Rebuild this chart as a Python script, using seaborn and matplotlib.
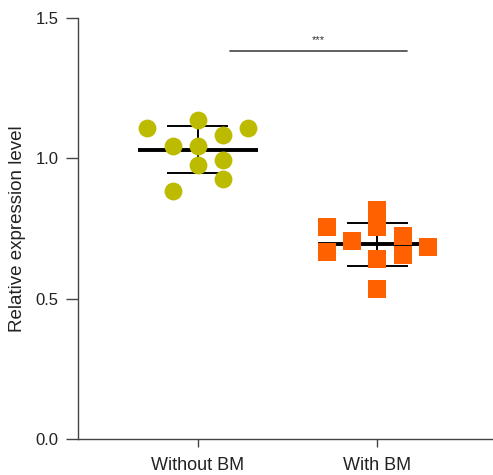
import numpy as np
import pandas as pd
import matplotlib
matplotlib.use("Agg")
import matplotlib.pyplot as plt
import seaborn as sns

groups = ["Without BM", "With BM"]
without_bm = [1.107, 1.136, 1.107, 1.085, 1.045, 1.045, 0.976, 0.994, 0.926, 0.885]
with_bm = [0.754, 0.665, 0.705, 0.816, 0.756, 0.643, 0.534, 0.724, 0.655, 0.685]
# column slot of each point inside its group (scatter layout)
without_slots = [-2, 0, 2, 1, -1, 0, 0, 1, 1, -1]
with_slots = [-2, -2, -1, 0, 0, 0, 0, 1, 1, 2]
colors = ["#BDBB00", "#FF6000"]
markers = ["o", "s"]
y_ticks = [0.0, 0.5, 1.0, 1.5]
sig_label = "***"

SLOT = 0.14

sns.set_theme(style="ticks")
plt.rcParams["font.family"] = ["Liberation Sans", "DejaVu Sans"]

rows = []
for gi, (name, vals, slots) in enumerate(zip(groups, [without_bm, with_bm], [without_slots, with_slots])):
    for v, s in zip(vals, slots):
        rows.append({"group": name, "x": gi + s * SLOT, "value": v})
df = pd.DataFrame(rows)

fig = plt.figure(figsize=(4.93, 4.75), dpi=100)
ax = fig.add_axes([0.158, 0.0758, 0.842, 0.886])

for gi, name in enumerate(groups):
    sub = df[df["group"] == name]
    sns.scatterplot(data=sub, x="x", y="value", ax=ax, color=colors[gi], marker=markers[gi],
                    s=165, linewidth=0, zorder=3, legend=False)
    m = sub["value"].mean()
    sd = sub["value"].std(ddof=1)
    ax.hlines(m, gi - 0.333, gi + 0.333, color="black", lw=2.8, zorder=2)
    ax.vlines(gi, m - sd, m + sd, color="black", lw=1.4, zorder=2)
    ax.hlines([m - sd, m + sd], gi - 0.17, gi + 0.17, color="black", lw=1.4, zorder=2)

# significance bar
ax.plot([0.178, 1.167], [1.382, 1.382], color="#444444", lw=1.2)
ax.text(0.672, 1.405, sig_label, ha="center", va="bottom", fontsize=8, color="#333333")

ax.set_xlim(-0.667, 1.643)
ax.set_ylim(0, 1.5)
ax.set_xticks(range(len(groups)))
ax.set_xticklabels(groups, fontsize=13, color="#222222")
ax.set_yticks(y_ticks)
ax.set_yticklabels([f"{t:.1f}" for t in y_ticks], fontsize=12, color="#222222")
ax.set_xlabel("")
ax.set_ylabel("Relative expression level", fontsize=13.5, color="#222222", labelpad=7)
ax.tick_params(axis="y", length=9, width=1, color="#444444", pad=5)
ax.tick_params(axis="x", length=6, width=1, color="#444444", pad=7)
for side in ["top", "right"]:
    ax.spines[side].set_visible(False)
for side in ["left", "bottom"]:
    ax.spines[side].set_color("#444444")
    ax.spines[side].set_linewidth(1)

fig.savefig("out.png", dpi=100)
